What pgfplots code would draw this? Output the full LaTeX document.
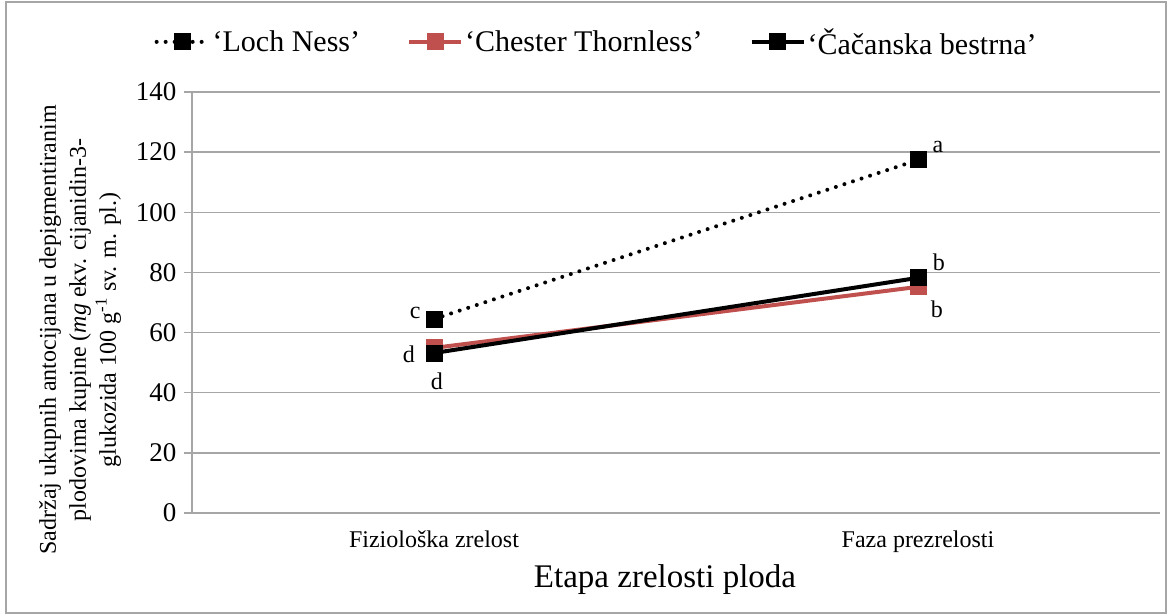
\documentclass[border=0pt]{standalone}
\usepackage{pgfplots}
\pgfplotsset{compat=1.18}
\usepackage{fontspec}
\setmainfont{Liberation Serif}

\definecolor{chester}{HTML}{C0504D}
\definecolor{gridgray}{HTML}{A6A6A6}

\begin{document}
\begin{tikzpicture}
\useasboundingbox (0pt,0pt) rectangle (1169pt,615pt);
\draw[gridgray, line width=1.5pt] (6pt,2pt) rectangle (1166pt,613pt);

\begin{axis}[
    at={(192pt,102pt)}, anchor=south west,
    scale only axis,
    width=968pt, height=421pt,
    xmin=0, xmax=2, ymin=0, ymax=140,
    axis x line=bottom, axis y line=left,
    axis line style={-, gridgray, line width=1.5pt},
    xtick={0.5,1.5},
    xticklabels={Fiziološka zrelost, Faza prezrelosti},
    major x tick style={draw=none},
    extra x ticks={0,1,2},
    extra x tick labels={},
    extra x tick style={major tick length=8pt, tick style={gridgray, line width=1.5pt}},
    ytick={0,20,...,140},
    ymajorgrids,
    major grid style={gridgray, line width=1.5pt},
    tick align=outside,
    major tick length=8pt,
    tick style={gridgray, line width=1.5pt},
    /pgf/number format/assume math mode=true,
    yticklabel style={font=\fontsize{27}{30}\selectfont, anchor=east, xshift=-4pt},
    xticklabel style={font=\fontsize{24}{28}\selectfont, yshift=-6pt},
    legend style={draw=none, fill=none, at={(0.418,1.119)}, anchor=center,
        legend columns=3, font=\fontsize{30}{34}\selectfont,
        /tikz/every even column/.append style={column sep=45pt},
        legend cell align=left},
    legend image code/.code={
        \draw[mark repeat=2, mark phase=2] plot coordinates {(0pt,0pt) (26pt,0pt) (52pt,0pt)};},
    clip=false,
]
\addplot[black, line width=4pt, line cap=round, dash pattern=on 0pt off 9pt,
    mark=square*, mark size=6.5pt, mark options={solid, fill=black}]
    coordinates {(0.5,64.5) (1.5,117.4)};
\addlegendentry{‘Loch Ness’}
\addplot[chester, line width=4pt, mark=square*, mark size=6.5pt,
    mark options={fill=chester}]
    coordinates {(0.5,54.9) (1.5,75.2)};
\addlegendentry{‘Chester Thornless’}
\addplot[black, line width=4pt, mark=square*, mark size=6.5pt,
    mark options={fill=black}]
    coordinates {(0.5,53.2) (1.5,78.2)};
\addlegendentry{‘Čačanska bestrna’}

% letters of significance
\begin{scope}[every node/.style={font=\fontsize{24}{28}\selectfont}]
\node at (axis cs:0.461,66.5) {c};
\node at (axis cs:0.448,52.9) {d};
\node at (axis cs:0.506,43.9) {d};
\node at (axis cs:1.541,121.7) {a};
\node at (axis cs:1.543,83.5) {b};
\node at (axis cs:1.539,67.8) {b};
\end{scope}
\end{axis}

\node[font=\fontsize{33}{38}\selectfont] at (665pt,35pt) {Etapa zrelosti ploda};
\node[rotate=90, align=center, font=\fontsize{24}{30}\selectfont] at (80pt,285pt)
    {Sadržaj ukupnih antocijana u depigmentiranim\\
     plodovima kupine (\textit{mg} ekv. cijanidin-3-\\
     glukozida 100 g\textsuperscript{-1} sv. m. pl.)};
\end{tikzpicture}
\end{document}
